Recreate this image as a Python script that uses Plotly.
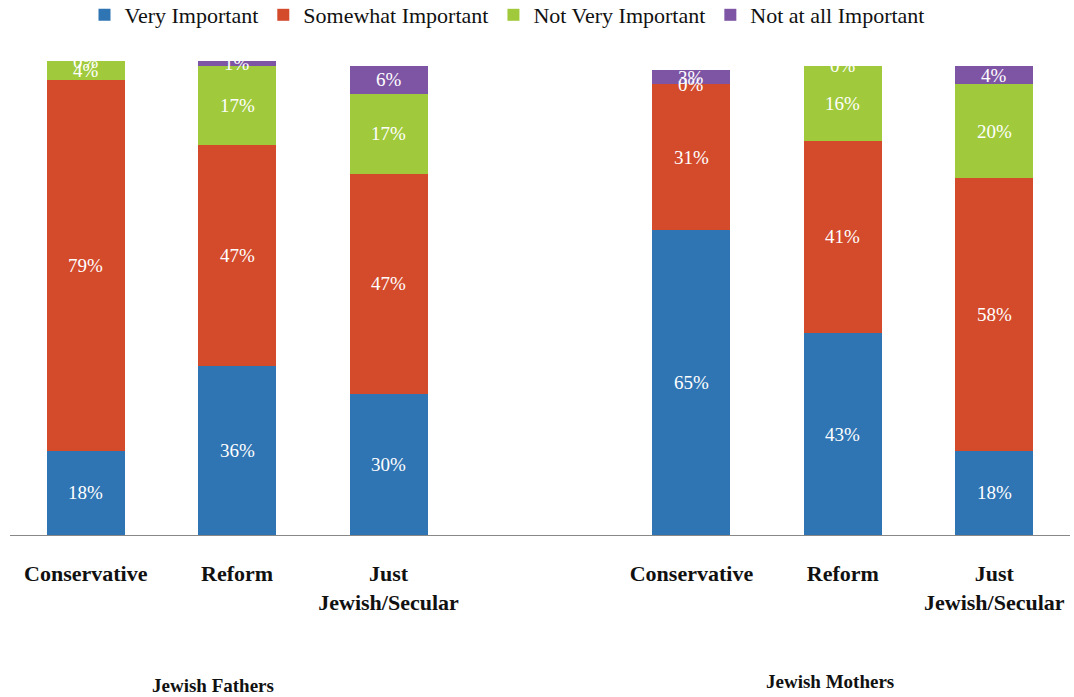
import plotly.graph_objects as go

# Survey groups: three denominations for fathers, then three for mothers
categories = ["Conservative", "Reform", "Just<br>Jewish/Secular",
              "Conservative", "Reform", "Just<br>Jewish/Secular"]
positions = [0, 1, 2, 4, 5, 6]
group_labels = ["Jewish Fathers", "Jewish Mothers"]

very_important = [18, 36, 30, 65, 43, 18]
somewhat_important = [79, 47, 47, 31, 41, 58]
not_very_important = [4, 17, 17, 0, 16, 20]
not_at_all_important = [0, 1, 6, 3, 0, 4]

series = [
    ("Very Important", very_important, "#3075b3"),
    ("Somewhat Important", somewhat_important, "#d44b2c"),
    ("Not Very Important", not_very_important, "#a0ca3c"),
    ("Not at all Important", not_at_all_important, "#7e55a5"),
]

SERIF = "Liberation Serif, Times New Roman, serif"

W, H = 1074, 697
ML, MR, MT, MB = 10, 4, 61, 162
PLOT_W, PLOT_H = W - ML - MR, H - MT - MB

fig = go.Figure()
base = [0] * len(positions)
annotations = []
for name, vals, color in series:
    fig.add_trace(go.Bar(
        x=positions, y=vals, name=name, width=0.515,
        marker=dict(color=color, line=dict(width=0)),
        hoverinfo="name+y",
    ))
    # white percentage label centred on each stacked segment
    for i, v in enumerate(vals):
        annotations.append(dict(
            x=positions[i], y=base[i] + v / 2, xref="x", yref="y",
            text=f"{v}%", showarrow=False,
            font=dict(family=SERIF, size=19, color="white"),
        ))
        base[i] += v

# group captions below the category labels (pixel spots -> paper coordinates)
for text, px, py in [(group_labels[0], 213, 685), (group_labels[1], 830, 681)]:
    annotations.append(dict(
        x=(px - ML) / PLOT_W, y=(H - MB - py) / PLOT_H,
        xref="paper", yref="paper", xanchor="center", yanchor="middle",
        text="<b>" + text + "</b>", showarrow=False,
        font=dict(family=SERIF, size=19, color="#111"),
    ))

fig.update_layout(
    barmode="stack",
    width=W, height=H,
    margin=dict(l=ML, r=MR, t=MT, b=MB),
    plot_bgcolor="white", paper_bgcolor="white",
    font=dict(family=SERIF, size=22, color="#111"),
    legend=dict(orientation="h", x=(507 - ML) / PLOT_W, xanchor="center",
                y=1 - 15 / H, yref="container", yanchor="middle",
                font=dict(family=SERIF, size=22), traceorder="normal", itemwidth=30),
    xaxis=dict(range=[-0.5, 6.5], tickvals=positions,
               ticktext=["<b>" + c + "</b>" for c in categories],
               tickfont=dict(family=SERIF, size=22, color="#111"),
               showline=True, linecolor="#888", linewidth=1, showgrid=False,
               ticks="", ticklen=0, ticklabelstandoff=19),
    yaxis=dict(range=[0, 101], visible=False, showgrid=False),
    annotations=annotations,
    showlegend=True,
)

fig.write_html("out.html")
